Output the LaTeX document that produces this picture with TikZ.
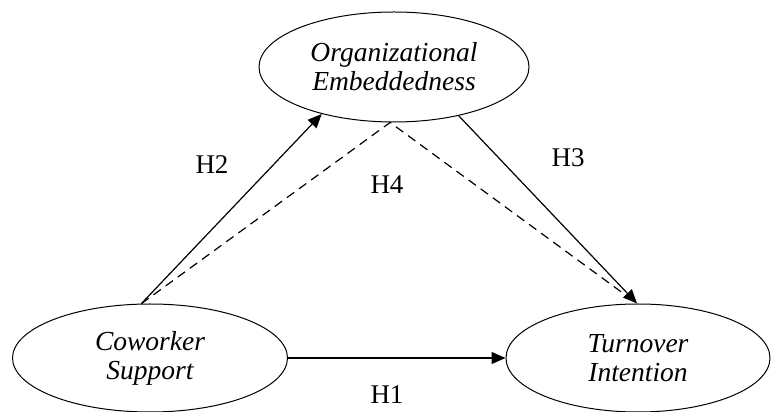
\documentclass[tikz,border=0pt]{standalone}
\usepackage{fontspec}
\setmainfont{Liberation Serif}
\usetikzlibrary{shapes.geometric,arrows.meta}
\begin{document}
\begin{tikzpicture}[x=1pt,y=1pt,
  construct/.style={draw,ellipse,line width=1pt,inner sep=0pt,align=center,
    font=\fontsize{27.5}{29}\selectfont\itshape},
  link/.style={line width=1.2pt,-{Triangle[length=14pt,width=12pt]}},
  dashlink/.style={line width=1.2pt,dash pattern=on 9pt off 6pt},
  hlabel/.style={font=\fontsize{27}{29}\selectfont,inner sep=0pt}]
\useasboundingbox (0,0) rectangle (771,412);
\node[construct,minimum width=270pt,minimum height=110pt] (oe) at (394,345) {Organizational\\Embeddedness};
\node[construct,minimum width=275pt,minimum height=108pt] (cw) at (150,54) {Coworker\\Support};
\node[construct,minimum width=264pt,minimum height=108pt] (tv) at (638,54) {Turnover\\Intention};
\coordinate (cwtop) at (cw.99);
\coordinate (tvtop) at (tv.91);
\draw[link] (cw.east) -- (tv.west);
\draw[link] (cwtop) -- (oe.213);
\draw[link] (oe.323) -- (tvtop);
\draw[dashlink] (cwtop) -- (oe.266) -- (tvtop);
\node[hlabel] (h1) at (387,17) {H1};
\node[hlabel] (h2) at (212,247) {H2};
\node[hlabel] (h3) at (568,254) {H3};
\node[hlabel] (h4) at (387,227) {H4};
\end{tikzpicture}
\end{document}
